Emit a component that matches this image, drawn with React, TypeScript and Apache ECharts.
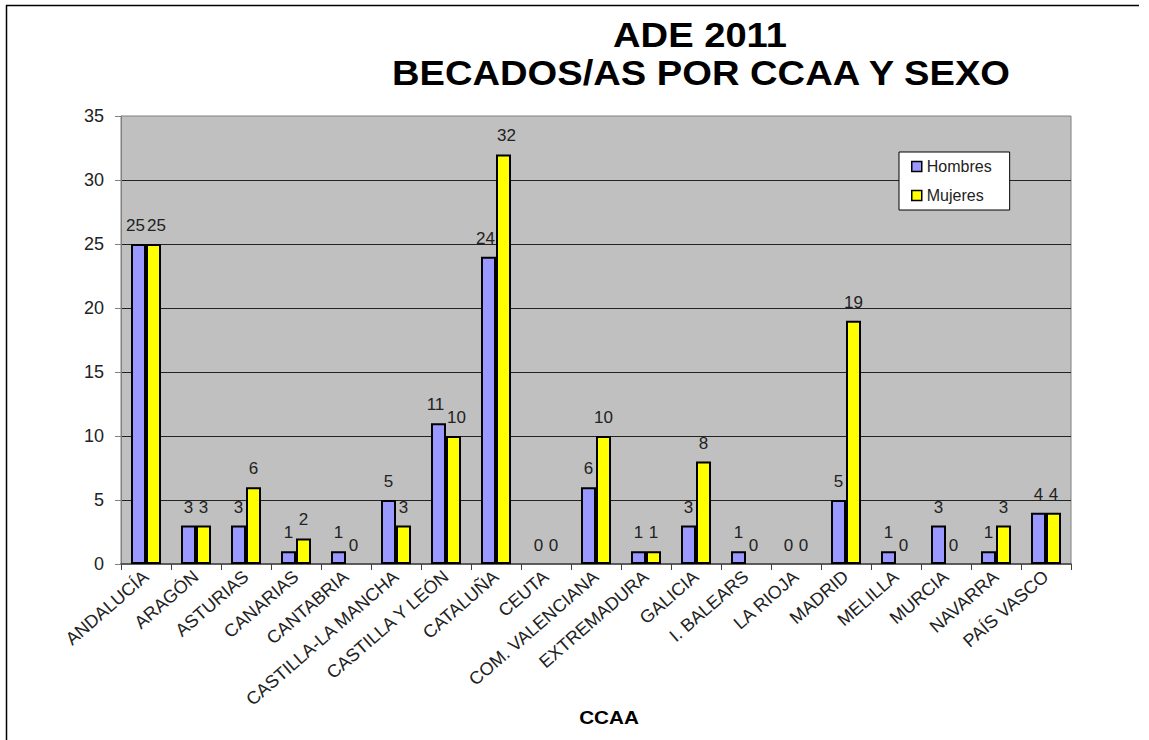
import React, { useEffect, useRef } from "react";
import * as echarts from "echarts";

const categories = [
  "ANDALUCÍA", "ARAGÓN", "ASTURIAS", "CANARIAS", "CANTABRIA",
  "CASTILLA-LA MANCHA", "CASTILLA Y LEÓN", "CATALUÑA", "CEUTA",
  "COM. VALENCIANA", "EXTREMADURA", "GALICIA", "I. BALEARS", "LA RIOJA",
  "MADRID", "MELILLA", "MURCIA", "NAVARRA", "PAÍS VASCO",
];
const hombres = [25, 3, 3, 1, 1, 5, 11, 24, 0, 6, 1, 3, 1, 0, 5, 1, 3, 1, 4];
const mujeres = [25, 3, 6, 2, 0, 3, 10, 32, 0, 10, 1, 8, 0, 0, 19, 0, 0, 3, 4];
const titleLine1 = "ADE 2011";
const titleLine2 = "BECADOS/AS POR CCAA Y SEXO";
const xName = "CCAA";

const FONT = "Arial, 'Liberation Sans', sans-serif";

function toItems(values: number[], values2: number[], dx: number) {
  return values.map((v, i) => {
    const item: any = { value: v };
    if (v === 0) item.itemStyle = { borderWidth: 0 };
    if (v >= 10 && values2[i] >= 10) item.label = { offset: [dx, 0] };
    return item;
  });
}

export default function App() {
  const ref = useRef<HTMLDivElement>(null);
  useEffect(() => {
    if (!ref.current) return;
    const chart = echarts.init(ref.current, null, { renderer: "svg" });
    const label = {
      show: true,
      position: "top",
      distance: 10,
      color: "#222",
      fontSize: 17,
      fontFamily: FONT,
    };
    chart.setOption({
      animation: false,
      backgroundColor: "#fff",
      textStyle: { fontFamily: FONT },
      graphic: [
        { type: "line", shape: { x1: 6, y1: 5.5, x2: 1139, y2: 5.5 }, style: { stroke: "#000", lineWidth: 1.5 } },
        { type: "line", shape: { x1: 6.5, y1: 5, x2: 6.5, y2: 740 }, style: { stroke: "#000", lineWidth: 1.5 } },
        {
          type: "text", x: 700, y: 35, scaleX: 1.09,
          style: { text: titleLine1, fontSize: 35, fontWeight: "bold", fontFamily: FONT, fill: "#000", textAlign: "center", textVerticalAlign: "middle" },
        },
        {
          type: "text", x: 701, y: 73, scaleX: 1.09,
          style: { text: titleLine2, fontSize: 35, fontWeight: "bold", fontFamily: FONT, fill: "#000", textAlign: "center", textVerticalAlign: "middle" },
        },
        {
          type: "text", x: 609, y: 718, scaleX: 1.15,
          style: { text: xName, fontSize: 18, fontWeight: "bold", fontFamily: FONT, fill: "#000", textAlign: "center", textVerticalAlign: "middle" },
        },
      ],
      legend: {
        orient: "vertical",
        left: 899,
        top: 152,
        padding: [6, 18, 6, 12],
        itemGap: 12,
        itemWidth: 10,
        itemHeight: 10,
        backgroundColor: "#fff",
        borderColor: "#000",
        borderWidth: 1,
        icon: "rect",
        itemStyle: { borderColor: "#000", borderWidth: 1.5 },
        textStyle: { fontSize: 16, color: "#222", fontFamily: FONT, lineHeight: 17 },
        data: ["Hombres", "Mujeres"],
      },
      grid: {
        left: 121,
        top: 116,
        right: 78,
        bottom: 176,
        show: true,
        backgroundColor: "#C0C0C0",
        borderColor: "#808080",
        borderWidth: 1,
      },
      xAxis: {
        type: "category",
        data: categories,
        axisLine: { lineStyle: { color: "#404040", width: 1.5 } },
        axisTick: { show: true, length: 6, lineStyle: { color: "#404040" } },
        axisLabel: { rotate: 41, fontSize: 18, color: "#222", fontFamily: FONT, margin: 10, interval: 0 },
      },
      yAxis: {
        type: "value",
        min: 0,
        max: 35,
        interval: 5,
        axisLine: { show: true, lineStyle: { color: "#808080" } },
        axisTick: { show: true, length: 6, lineStyle: { color: "#808080" } },
        axisLabel: { fontSize: 18, color: "#222", fontFamily: FONT, margin: 17 },
        splitLine: { show: true, showMaxLine: false, showMinLine: false, lineStyle: { color: "#222", width: 1 } },
      },
      series: [
        {
          name: "Hombres",
          type: "bar",
          data: toItems(hombres, mujeres, -3),
          barWidth: 15,
          barGap: "0%",
          itemStyle: { color: "#9999FF", borderColor: "#000", borderWidth: 2 },
          label,
        },
        {
          name: "Mujeres",
          type: "bar",
          data: toItems(mujeres, hombres, 3),
          barWidth: 15,
          barGap: "0%",
          itemStyle: { color: "#FFFF00", borderColor: "#000", borderWidth: 2 },
          label,
        },
      ],
    });
    return () => chart.dispose();
  }, []);
  return (
    <div
      ref={ref}
      style={{ position: "fixed", left: 0, top: 0, width: 1149, height: 740 }}
    />
  );
}
